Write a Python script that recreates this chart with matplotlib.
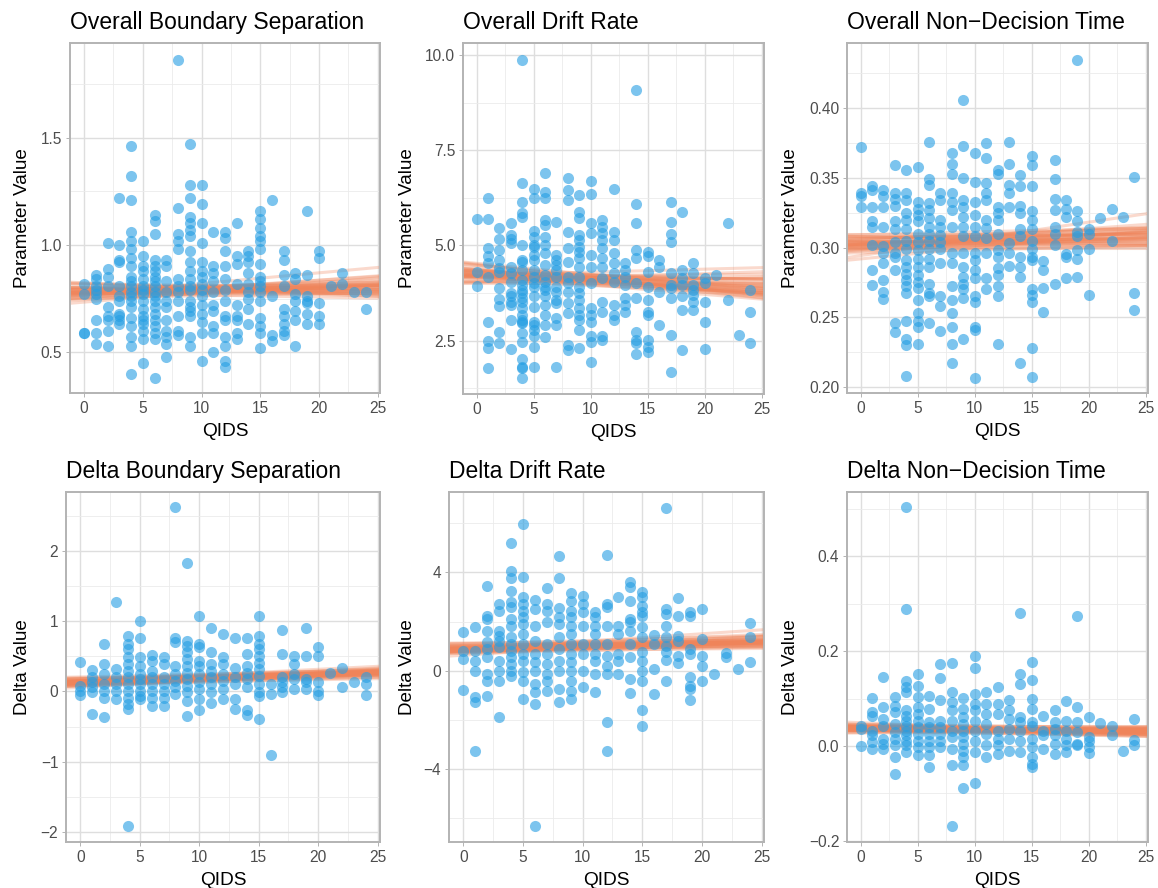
import numpy as np
import matplotlib.pyplot as plt

plt.rcParams['font.family'] = ['Liberation Sans', 'DejaVu Sans']

# --- data: values per QIDS score (index 0..24) ---
bs_overall = [
    [0.82, 0.77, 0.59, 0.59],
    [0.86, 0.84, 0.81, 0.79, 0.77, 0.75, 0.65, 0.59, 0.54],
    [1.01, 0.89, 0.85, 0.81, 0.71, 0.67, 0.65, 0.60, 0.53],
    [1.22, 1.00, 0.93, 0.92, 0.81, 0.76, 0.74, 0.68, 0.67, 0.65, 0.63],
    [1.46, 1.32, 1.21, 1.06, 1.02, 0.98, 0.94, 0.90, 0.85, 0.83, 0.81, 0.78, 0.76, 0.74, 0.71, 0.66, 0.62, 0.57, 0.53, 0.40],
    [1.02, 0.95, 0.90, 0.88, 0.84, 0.81, 0.79, 0.77, 0.74, 0.70, 0.67, 0.65, 0.63, 0.60, 0.56, 0.45],
    [1.14, 1.11, 1.05, 0.93, 0.90, 0.88, 0.85, 0.83, 0.81, 0.78, 0.76, 0.74, 0.71, 0.68, 0.65, 0.62, 0.59, 0.56, 0.38],
    [0.93, 0.90, 0.83, 0.78, 0.74, 0.71, 0.65, 0.60, 0.57, 0.54, 0.48],
    [1.86, 1.17, 1.05, 1.02, 0.98, 0.84, 0.81, 0.78, 0.74, 0.67, 0.60, 0.58],
    [1.47, 1.28, 1.22, 1.13, 1.10, 1.07, 1.04, 0.97, 0.92, 0.88, 0.84, 0.81, 0.79, 0.74, 0.71, 0.69, 0.67, 0.57, 0.53],
    [1.28, 1.19, 1.10, 1.01, 0.92, 0.88, 0.85, 0.82, 0.79, 0.76, 0.72, 0.68, 0.64, 0.59, 0.46],
    [1.06, 0.90, 0.87, 0.83, 0.78, 0.72, 0.69, 0.62, 0.59, 0.50],
    [1.06, 1.03, 0.97, 0.90, 0.84, 0.79, 0.74, 0.67, 0.65, 0.57, 0.53, 0.46, 0.43],
    [1.10, 0.95, 0.91, 0.82, 0.72, 0.67, 0.65, 0.59, 0.56],
    [0.97, 0.95, 0.92, 0.87, 0.82, 0.78, 0.75, 0.70, 0.63],
    [1.16, 1.12, 1.08, 1.04, 1.02, 0.98, 0.91, 0.85, 0.83, 0.81, 0.78, 0.74, 0.66, 0.62, 0.59, 0.52],
    [1.21, 0.76, 0.58, 0.55],
    [0.97, 0.93, 0.86, 0.81, 0.70, 0.67, 0.63, 0.60, 0.58],
    [0.87, 0.84, 0.77, 0.74, 0.69, 0.65, 0.53],
    [1.16, 0.86, 0.76, 0.74, 0.73, 0.68, 0.63],
    [0.97, 0.94, 0.73, 0.67, 0.63],
    [0.81],
    [0.87, 0.82],
    [0.78],
    [0.78, 0.70],
]

dr_overall = [
    [5.69, 4.29, 3.94],
    [6.25, 5.69, 4.92, 4.71, 4.53, 4.18, 3.00, 2.50, 2.30, 1.79],
    [5.45, 5.16, 4.88, 4.62, 4.40, 4.31, 3.87, 3.59, 3.41, 2.74, 2.45],
    [5.60, 5.27, 5.16, 5.06, 4.44, 4.27, 4.05, 3.74, 3.66, 3.52, 3.44, 3.04, 2.27],
    [9.87, 6.65, 6.15, 5.86, 5.76, 5.01, 4.62, 4.57, 4.36, 4.09, 3.96, 3.83, 3.74, 3.61, 3.52, 3.35, 3.17, 3.04, 3.00, 2.96, 2.69, 2.47, 2.01, 1.81, 1.77, 1.53],
    [6.47, 6.24, 5.38, 5.23, 5.01, 4.97, 4.75, 4.62, 4.36, 4.18, 4.01, 3.92, 3.66, 3.39, 3.00, 2.91, 2.78, 2.61, 2.34, 1.82],
    [6.91, 6.41, 6.24, 5.67, 5.54, 5.23, 5.01, 4.79, 4.49, 4.22, 4.05, 3.92, 3.83, 3.66, 3.44, 3.17, 2.91, 2.59],
    [5.62, 4.75, 4.62, 4.49, 4.36, 4.18, 3.92, 3.79, 3.57, 3.48, 3.09, 2.91, 1.80],
    [6.76, 6.46, 6.19, 5.36, 4.92, 4.57, 4.18, 4.01, 3.79, 3.48, 3.22, 2.39, 2.26],
    [6.32, 5.89, 5.71, 5.27, 5.14, 4.97, 4.84, 4.66, 4.44, 4.18, 3.92, 3.74, 3.57, 3.35, 3.17, 3.04, 2.78, 2.30],
    [6.69, 6.34, 5.58, 5.32, 4.75, 4.44, 4.01, 3.35, 3.17, 3.00, 2.61, 2.47, 1.95],
    [5.67, 5.49, 5.32, 5.14, 4.92, 4.66, 4.44, 4.14, 3.52, 3.26, 2.61, 2.52],
    [6.47, 5.36, 5.14, 4.79, 4.53, 4.27, 4.05, 3.44, 3.17, 3.04],
    [4.53, 4.36, 4.18, 3.96, 3.61, 3.44, 3.26],
    [9.08, 6.09, 5.58, 4.88, 4.66, 4.01, 3.61, 2.74, 2.52, 2.43, 2.15],
    [4.84, 4.71, 4.31, 3.92, 3.57, 3.26, 3.17, 2.52, 2.34, 2.21],
    [4.62, 4.44, 3.79, 2.91],
    [6.15, 5.62, 5.30, 5.10, 4.27, 3.96, 3.87, 3.61, 2.65, 1.69],
    [5.89, 4.36, 4.14, 3.96, 3.66, 3.31, 2.26],
    [4.53, 4.27, 3.96, 3.83, 3.70, 3.52, 3.31],
    [4.14, 4.01, 3.52, 3.00, 2.27],
    [4.22],
    [5.58, 3.57],
    [2.65],
    [3.83, 3.24, 2.43],
]

ndt_overall = [
    [0.372, 0.339, 0.337, 0.329],
    [0.344, 0.341, 0.329, 0.319, 0.315, 0.302, 0.284, 0.273],
    [0.341, 0.337, 0.329, 0.315, 0.301, 0.296, 0.289, 0.277, 0.268, 0.263],
    [0.359, 0.339, 0.335, 0.330, 0.319, 0.313, 0.304, 0.296, 0.293, 0.284, 0.246, 0.239],
    [0.356, 0.339, 0.334, 0.325, 0.320, 0.313, 0.305, 0.299, 0.291, 0.286, 0.281, 0.277, 0.272, 0.267, 0.247, 0.234, 0.230, 0.208],
    [0.358, 0.333, 0.328, 0.323, 0.319, 0.310, 0.304, 0.298, 0.292, 0.286, 0.280, 0.275, 0.271, 0.262, 0.253, 0.247, 0.243, 0.231],
    [0.376, 0.349, 0.345, 0.332, 0.327, 0.321, 0.315, 0.310, 0.305, 0.299, 0.292, 0.286, 0.274, 0.267, 0.265, 0.246],
    [0.339, 0.334, 0.320, 0.315, 0.309, 0.304, 0.299, 0.289, 0.265, 0.258, 0.240],
    [0.368, 0.360, 0.353, 0.339, 0.333, 0.327, 0.315, 0.296, 0.289, 0.272, 0.262, 0.253, 0.243, 0.231, 0.217],
    [0.406, 0.373, 0.350, 0.334, 0.329, 0.322, 0.315, 0.308, 0.296, 0.286, 0.279, 0.274, 0.270, 0.264, 0.234],
    [0.368, 0.347, 0.333, 0.323, 0.315, 0.308, 0.296, 0.291, 0.284, 0.278, 0.265, 0.261, 0.243, 0.241, 0.206],
    [0.375, 0.364, 0.346, 0.339, 0.334, 0.320, 0.314, 0.307, 0.296, 0.278, 0.270],
    [0.356, 0.353, 0.329, 0.325, 0.320, 0.310, 0.298, 0.293, 0.285, 0.280, 0.272, 0.265, 0.231],
    [0.376, 0.360, 0.345, 0.339, 0.329, 0.303, 0.296, 0.287],
    [0.352, 0.344, 0.330, 0.325, 0.313, 0.308, 0.293, 0.286, 0.279, 0.217],
    [0.366, 0.359, 0.344, 0.326, 0.320, 0.313, 0.305, 0.299, 0.293, 0.291, 0.270, 0.266, 0.261, 0.228, 0.207],
    [0.290, 0.284, 0.271, 0.254],
    [0.363, 0.349, 0.335, 0.327, 0.315, 0.310, 0.302, 0.274],
    [0.334, 0.328, 0.322, 0.295, 0.293, 0.278],
    [0.435, 0.326, 0.319, 0.311, 0.308, 0.298, 0.292, 0.279],
    [0.313, 0.310, 0.299, 0.266],
    [0.321],
    [0.328, 0.305],
    [0.322],
    [0.351, 0.267, 0.255],
]

bs_delta = [
    [0.42, 0.08, 0.01, -0.05],
    [0.31, 0.20, 0.13, 0.06, -0.01, -0.32],
    [0.68, 0.39, 0.25, 0.10, 0.01, -0.09, -0.36],
    [1.27, 0.32, 0.20, 0.10, 0.01, -0.11],
    [0.79, 0.68, 0.60, 0.49, 0.39, 0.29, 0.20, 0.10, 0.01, -0.09, -0.18, -0.25, -1.92],
    [1.00, 0.76, 0.49, 0.37, 0.25, 0.18, 0.10, 0.01, -0.06, -0.11],
    [0.52, 0.44, 0.29, 0.20, 0.10, 0.01, -0.09, -0.20],
    [0.49, 0.39, 0.20, 0.10, 0.01, -0.09, -0.20],
    [2.63, 0.77, 0.70, 0.37, 0.25, 0.15, 0.06, -0.04],
    [1.83, 0.72, 0.65, 0.56, 0.46, 0.37, 0.27, 0.18, 0.08, -0.01, -0.13, -0.35],
    [1.08, 0.68, 0.64, 0.44, 0.37, 0.25, 0.13, 0.03, -0.11, -0.27],
    [0.90, 0.56, 0.39, 0.29, 0.20, 0.10, -0.01, -0.16],
    [0.82, 0.49, 0.39, 0.25, 0.15, 0.03, -0.11],
    [0.77, 0.33, 0.20, 0.10, -0.11, -0.25],
    [0.76, 0.53, 0.37, 0.27, 0.18, 0.06, -0.27, -0.33],
    [1.07, 0.79, 0.68, 0.60, 0.51, 0.41, 0.32, 0.22, 0.10, -0.01, -0.06, -0.39],
    [0.10, -0.03, -0.90],
    [0.88, 0.54, 0.20, 0.14, 0.06, -0.01],
    [0.50, 0.39, 0.25, 0.18, 0.03],
    [0.90, 0.50, 0.18, 0.13, 0.03],
    [0.64, 0.50, 0.14, 0.01, -0.05],
    [0.27],
    [0.33, 0.06],
    [0.14],
    [0.21, 0.10, -0.05],
]

dr_delta = [
    [1.56, 0.81, 0.47, -0.77],
    [1.76, 0.81, 0.41, 0.00, -1.08, -1.26, -3.28],
    [3.43, 2.24, 2.10, 1.63, 1.15, 0.88, 0.54, -0.14, -0.41, -1.02],
    [2.71, 2.44, 1.63, 1.42, 1.22, 0.95, 0.41, 0.00, -0.41, -1.90],
    [5.21, 4.07, 3.76, 3.25, 2.78, 2.58, 2.10, 1.83, 1.36, 1.08, 0.81, 0.54, 0.27, 0.00, -0.20],
    [5.98, 3.80, 2.98, 2.71, 2.44, 2.17, 1.90, 1.49, 1.08, 0.68, 0.41, -0.07, -0.43, -1.15],
    [2.89, 2.51, 1.83, 1.22, 0.68, 0.34, 0.00, -0.54, -0.88, -1.36, -6.31],
    [3.35, 2.71, 2.44, 1.97, 1.08, 0.68, 0.27, -0.14, -0.41, -0.81],
    [4.68, 3.76, 2.55, 2.17, 1.90, 1.36, 0.88, 0.41, 0.00, -0.75, -1.29],
    [3.16, 2.85, 2.44, 2.17, 1.83, 1.49, 1.08, 0.68, 0.34, 0.00, -0.41, -0.81, -1.15],
    [3.02, 2.71, 2.37, 1.83, 1.08, 0.68, 0.00, -0.68],
    [2.37, 2.17, 1.83, 1.49, 1.08, 0.68, 0.41, -0.14, -0.88],
    [4.72, 2.71, 2.58, 1.83, 1.08, 0.61, 0.20, -0.14, -2.07, -3.25],
    [2.98, 1.83, 1.49, 0.68, 0.41, -0.14],
    [3.59, 3.42, 2.85, 2.10, 1.97, 1.63, 1.08, 0.54, -0.34, -0.92],
    [3.19, 2.98, 2.64, 2.37, 2.24, 1.76, 1.36, 0.75, 0.41, 0.00, -0.43, -1.60, -2.26],
    [1.46, 1.08, 0.07, -0.95],
    [6.63, 2.51, 2.30, 1.83, 1.38, 1.02, 0.75, 0.43, -0.43],
    [2.96, 2.21, 1.42, 1.22, 0.61, 0.30],
    [2.40, 2.24, 0.88, 0.68, -0.27, -0.61, -0.75, -1.18],
    [2.51, 1.29, 0.61, 0.20, -0.43],
    [-0.14],
    [0.71, 0.54],
    [0.05],
    [1.94, 1.38, 0.34],
]

ndt_delta = [
    [0.043, 0.036, -0.001],
    [0.101, 0.071, 0.064, 0.032, 0.022, 0.008, -0.006],
    [0.146, 0.082, 0.057, 0.043, 0.015, 0.004, -0.006],
    [0.103, 0.085, 0.071, 0.046, 0.029, 0.015, 0.001, -0.024, -0.060],
    [0.504, 0.288, 0.136, 0.124, 0.113, 0.075, 0.064, 0.053, 0.043, 0.032, 0.022, 0.011, 0.001, -0.013],
    [0.151, 0.127, 0.103, 0.082, 0.068, 0.053, 0.039, 0.025, 0.011, -0.003, -0.020],
    [0.106, 0.077, 0.050, 0.039, 0.025, 0.011, -0.003, -0.020, -0.045],
    [0.172, 0.143, 0.096, 0.053, 0.039, 0.025, 0.011, -0.003],
    [0.175, 0.113, 0.092, 0.075, 0.053, 0.032, 0.018, -0.006, -0.041, -0.168],
    [0.101, 0.078, 0.060, 0.046, 0.032, 0.018, 0.004, -0.010, -0.024, -0.041, -0.089],
    [0.189, 0.165, 0.110, 0.089, 0.075, 0.053, 0.032, 0.011, -0.013, -0.079],
    [0.113, 0.089, 0.068, 0.046, 0.025, 0.001, -0.024],
    [0.124, 0.089, 0.068, 0.032, 0.015, 0.001, -0.017],
    [0.097, 0.075, 0.057, 0.036, 0.015, -0.010],
    [0.281, 0.152, 0.131, 0.060, 0.050, 0.032, 0.011, -0.013],
    [0.178, 0.139, 0.099, 0.078, 0.050, 0.043, 0.015, -0.003, -0.024, -0.038, -0.045],
    [0.063, 0.032, 0.022, -0.006],
    [0.075, 0.050, 0.036, 0.022, 0.004, -0.017],
    [0.094, 0.053, 0.032, 0.015, 0.001, -0.013],
    [0.275, 0.082, 0.050, 0.029, 0.004, 0.001],
    [0.060, 0.018, 0.011, -0.003, -0.015],
    [0.048],
    [0.041, 0.022],
    [-0.011],
    [0.056, 0.013, 0.002],
]

# --- posterior regression draws: fitted value at QIDS = 9 and slope ---
bs_overall_at9 = [0.762, 0.768, 0.772, 0.775, 0.778, 0.780, 0.782, 0.784, 0.786, 0.788, 0.789, 0.790, 0.791, 0.792, 0.794, 0.796, 0.798, 0.800,
                  0.803, 0.806, 0.810, 0.815, 0.770, 0.777, 0.783, 0.787, 0.793, 0.797, 0.801, 0.808, 0.779, 0.785, 0.795, 0.799, 0.774, 0.812]
bs_overall_slope = [0.0010, -0.0010, 0.0025, 0.0000, 0.0015, -0.0005, 0.0030, 0.0005, -0.0015, 0.0020, 0.0008, -0.0002, 0.0012, 0.0040, -0.0008, 0.0018, 0.0003, -0.0020,
                    0.0022, 0.0006, -0.0012, 0.0050, 0.0028, 0.0009, -0.0004, 0.0014, 0.0001, 0.0035, -0.0025, 0.0011, 0.0004, 0.0019, -0.0006, 0.0007, 0.0045, -0.0001]
dr_overall_at9 = [3.96, 3.99, 4.02, 4.04, 4.06, 4.07, 4.08, 4.09, 4.10, 4.11, 4.12, 4.13, 4.14, 4.15, 4.16, 4.17, 4.18, 4.19,
                  4.21, 4.23, 4.26, 4.29, 4.00, 4.05, 4.09, 4.11, 4.14, 4.16, 4.20, 4.24, 4.03, 4.12, 4.18, 4.22, 4.08, 4.27]
dr_overall_slope = [-0.012, -0.025, 0.000, -0.018, -0.008, -0.022, 0.004, -0.015, -0.030, -0.005, -0.019, -0.026, -0.010, 0.010, -0.028, -0.003, -0.016, -0.035,
                    0.002, -0.014, -0.024, 0.008, -0.020, -0.011, -0.017, -0.021, -0.013, -0.002, -0.032, -0.009, -0.016, -0.023, -0.018, -0.007, 0.006, -0.029]
ndt_overall_at9 = [0.298, 0.300, 0.301, 0.302, 0.303, 0.303, 0.304, 0.304, 0.305, 0.305, 0.305, 0.306, 0.306, 0.307, 0.307, 0.308, 0.309, 0.310,
                   0.299, 0.302, 0.304, 0.306, 0.308, 0.311, 0.301, 0.303, 0.305, 0.307, 0.309, 0.300, 0.304, 0.306, 0.302, 0.308, 0.305, 0.303]
ndt_overall_slope = [0.0002, 0.0000, 0.0004, 0.0001, 0.0003, -0.0001, 0.0005, 0.0002, 0.0000, 0.0003, 0.0001, 0.0004, -0.0002, 0.0002, 0.0006, 0.0001, 0.0003, 0.0000,
                     0.0008, 0.0002, -0.0001, 0.0004, 0.0001, 0.0002, 0.0003, 0.0005, 0.0002, -0.0001, 0.0003, 0.0001, 0.0002, 0.0003, 0.0000, 0.0004, 0.0012, 0.0002]
bs_delta_at9 = [0.125, 0.135, 0.145, 0.152, 0.158, 0.163, 0.168, 0.172, 0.176, 0.180, 0.183, 0.186, 0.189, 0.192, 0.196, 0.200, 0.205, 0.210,
                0.216, 0.223, 0.232, 0.242, 0.140, 0.155, 0.166, 0.178, 0.185, 0.194, 0.203, 0.214, 0.160, 0.174, 0.188, 0.198, 0.150, 0.220]
bs_delta_slope = [0.0050, 0.0030, 0.0070, 0.0045, 0.0060, 0.0025, 0.0080, 0.0055, 0.0035, 0.0065, 0.0052, 0.0040, 0.0075, 0.0090, 0.0048, 0.0058, 0.0020, 0.0068,
                  0.0042, 0.0085, 0.0055, 0.0038, 0.0062, 0.0072, 0.0046, 0.0057, 0.0033, 0.0066, 0.0050, 0.0044, 0.0054, 0.0061, 0.0049, 0.0053, 0.0100, 0.0028]
dr_delta_at9 = [0.80, 0.84, 0.87, 0.89, 0.91, 0.93, 0.95, 0.96, 0.97, 0.98, 0.99, 1.00, 1.01, 1.02, 1.03, 1.05, 1.07, 1.09,
                1.11, 1.14, 1.17, 1.21, 0.86, 0.92, 0.96, 0.99, 1.01, 1.04, 1.08, 1.12, 0.88, 0.94, 1.00, 1.06, 0.90, 1.15]
dr_delta_slope = [0.010, 0.004, 0.016, 0.008, 0.013, 0.002, 0.019, 0.011, 0.006, 0.014, 0.009, 0.000, 0.012, 0.024, 0.007, 0.015, 0.003, 0.018,
                  0.010, 0.021, 0.005, 0.013, 0.012, 0.017, 0.008, 0.011, 0.006, 0.014, 0.009, 0.001, 0.010, 0.015, 0.012, 0.007, 0.030, 0.032]
ndt_delta_at9 = [0.027, 0.029, 0.030, 0.031, 0.032, 0.033, 0.034, 0.034, 0.035, 0.035, 0.036, 0.036, 0.037, 0.038, 0.039, 0.040, 0.041, 0.043,
                 0.028, 0.031, 0.033, 0.035, 0.037, 0.039, 0.042, 0.030, 0.034, 0.036, 0.038, 0.032, 0.035, 0.037, 0.033, 0.040, 0.036, 0.034]
ndt_delta_slope = [-0.0002, 0.0002, -0.0006, -0.0001, -0.0004, 0.0000, -0.0008, -0.0003, 0.0001, -0.0005, -0.0002, 0.0003, -0.0007, -0.0001, -0.0004, -0.0010, 0.0000, -0.0003,
                   -0.0005, -0.0002, 0.0004, -0.0006, -0.0001, -0.0003, -0.0002, -0.0004, 0.0001, -0.0005, -0.0002, -0.0003, -0.0001, -0.0004, 0.0000, -0.0006, -0.0002, -0.0003]

x_ticks = [0, 5, 10, 15, 20, 25]

W, H = 1158, 888
fig = plt.figure(figsize=(W / 100, H / 100), dpi=100)

# title, y label, data, line values at QIDS 9, slopes, ylim, yticks, yticklabels, minor y, box (l, t, r, b) px, ylabel x px
panels = [
    ("Overall Boundary Separation", "Parameter Value", bs_overall, bs_overall_at9, bs_overall_slope,
     (0.310, 1.941), [0.5, 1.0, 1.5], ["0.5", "1.0", "1.5"], [0.75, 1.25, 1.75], (70, 43, 380, 393), 23),
    ("Overall Drift Rate", "Parameter Value", dr_overall, dr_overall_at9, dr_overall_slope,
     (1.10, 10.315), [2.5, 5.0, 7.5, 10.0], ["2.5", "5.0", "7.5", "10.0"], [1.25, 3.75, 6.25, 8.75], (463, 43, 764, 394), 408),
    ("Overall Non\u2212Decision Time", "Parameter Value", ndt_overall, ndt_overall_at9, ndt_overall_slope,
     (0.1955, 0.4469), [0.20, 0.25, 0.30, 0.35, 0.40], ["0.20", "0.25", "0.30", "0.35", "0.40"],
     [0.225, 0.275, 0.325, 0.375, 0.425], (847, 43, 1148, 393), 791),
    ("Delta Boundary Separation", "Delta Value", bs_delta, bs_delta_at9, bs_delta_slope,
     (-2.147, 2.846), [-2, -1, 0, 1, 2], ["\u22122", "\u22121", "0", "1", "2"], [-1.5, -0.5, 0.5, 1.5, 2.5], (66, 492, 380, 842), 23),
    ("Delta Drift Rate", "Delta Value", dr_delta, dr_delta_at9, dr_delta_slope,
     (-6.97, 7.27), [-4, 0, 4], ["\u22124", "0", "4"], [-6, -2, 2, 6], (449, 492, 764, 842), 407),
    ("Delta Non\u2212Decision Time", "Delta Value", ndt_delta, ndt_delta_at9, ndt_delta_slope,
     (-0.2027, 0.5357), [-0.2, 0.0, 0.2, 0.4], ["\u22120.2", "0.0", "0.2", "0.4"], [-0.1, 0.1, 0.3, 0.5], (847, 492, 1148, 842), 791),
]

for title, ylab, data, at9, slopes, ylim, yt, ytl, ymin, box, ylx in panels:
    l, t, r, b = box
    ax = fig.add_axes([l / W, 1 - b / H, (r - l) / W, (b - t) / H])
    xs = np.concatenate([[q] * len(v) for q, v in enumerate(data)])
    ys = np.concatenate([v for v in data])
    for v9, s in zip(at9, slopes):
        ax.axline((9, v9), slope=s, color="#EF845A", alpha=0.3, lw=2.2, zorder=2)
    ax.scatter(xs, ys, s=64, color="#259EE3", alpha=0.6, linewidths=0, zorder=3)

    ax.set_xlim(-1.2, 25.2)
    ax.set_ylim(*ylim)
    ax.set_xticks(x_ticks)
    ax.set_xticklabels([str(v) for v in x_ticks])
    ax.set_xticks([2.5, 7.5, 12.5, 17.5, 22.5], minor=True)
    ax.set_yticks(yt)
    ax.set_yticklabels(ytl)
    ax.set_yticks(ymin, minor=True)
    ax.set_axisbelow(True)
    ax.grid(which="major", color="#dedede", lw=1.0, zorder=0)
    ax.grid(which="minor", color="#ebebeb", lw=0.6, zorder=0)
    ax.tick_params(which="major", length=3, width=0.7, color="#b3b3b3",
                   labelcolor="#4d4d4d", labelsize=11.2, pad=2.5)
    ax.tick_params(which="minor", length=0)
    for sp in ax.spines.values():
        sp.set_color("#b3b3b3")
        sp.set_linewidth(1.4)

    # titles and axis labels, placed in pixel positions
    fig.text(l / W, 1 - (t - 14) / H, title, fontsize=16.5, color="black", ha="left", va="baseline")
    fig.text((l + r) / 2 / W, 1 - (b + 43) / H, "QIDS", fontsize=13.8, ha="center", va="baseline")
    fig.text(ylx / W, 1 - (t + b) / 2 / H, ylab, fontsize=13.6, rotation=90, ha="center", va="center")

fig.savefig("out.png", dpi=100)
